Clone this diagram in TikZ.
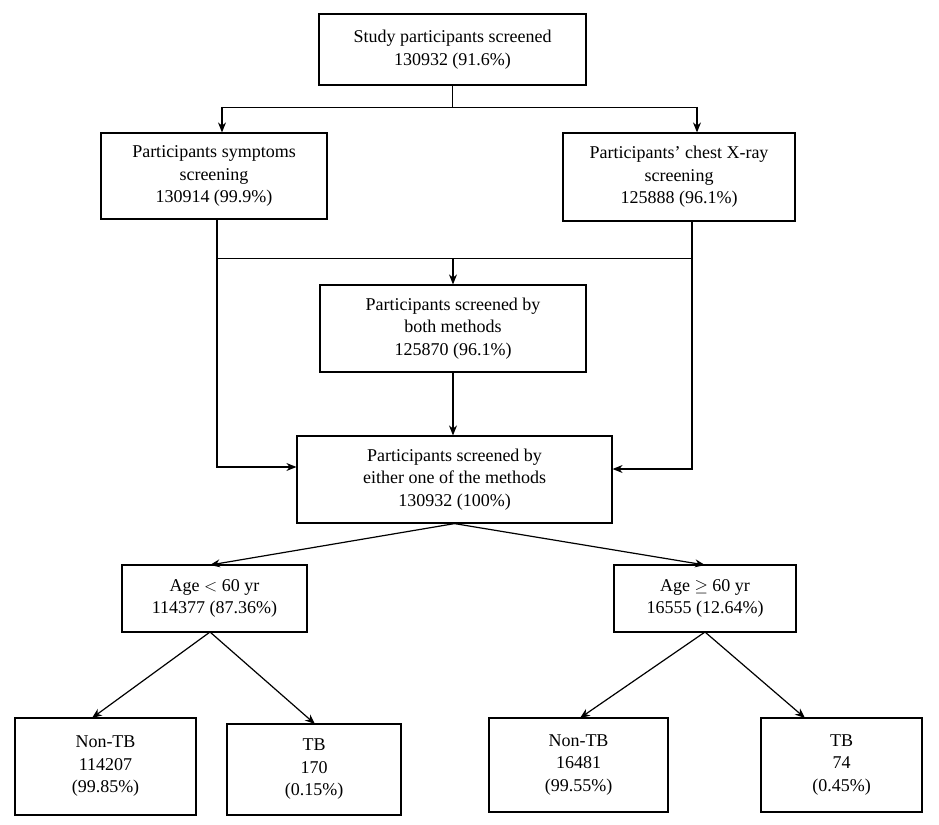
\documentclass[tikz,border=0pt]{standalone}
\usepackage{fontspec}
\setmainfont{Liberation Serif}
\usepackage{amssymb}
\usetikzlibrary{arrows.meta}
\begin{document}
\begin{tikzpicture}[x=1pt,y=-1pt,
  box/.style={draw,line width=1.2pt,align=center,inner sep=0pt,font=\fontsize{18}{22.5}\selectfont},
  arr/.style={-{Stealth[length=10pt,width=8pt]},line width=1.2pt},
  ln/.style={line width=0.7pt}]
\useasboundingbox (0,0) rectangle (939,824);
\node[box,minimum width=267,minimum height=71] (top) at (452.5,49.5) {Study participants screened\\130932 (91.6\%)};
\node[box,minimum width=226,minimum height=86] (sym) at (214,176) {Participants symptoms\\screening\\130914 (99.9\%)};
\node[box,minimum width=232,minimum height=88] (cxr) at (679,177) {Participants' chest X-ray\\screening\\125888 (96.1\%)};
\node[box,minimum width=266,minimum height=87] (both) at (453,328.5) {Participants screened by\\both methods\\125870 (96.1\%)};
\node[box,minimum width=315,minimum height=87] (either) at (454.5,479.5) {Participants screened by\\either one of the methods\\130932 (100\%)};
\node[box,minimum width=185,minimum height=67] (a1) at (214.5,598.5) {Age $<$ 60 yr\\114377 (87.36\%)};
\node[box,minimum width=182,minimum height=67] (a2) at (705,598.5) {Age $\geq$ 60 yr\\16555 (12.64\%)};
\node[box,minimum width=181,minimum height=97] (n1) at (105.5,766.5) {Non-TB\\114207\\(99.85\%)};
\node[box,minimum width=174,minimum height=91] (t1) at (314,769.5) {TB\\170\\(0.15\%)};
\node[box,minimum width=179,minimum height=94] (n2) at (578.5,765) {Non-TB\\16481\\(99.55\%)};
\node[box,minimum width=161,minimum height=94] (t2) at (841.5,765) {TB\\74\\(0.45\%)};
% top split
\coordinate (s0) at (452.5,107);
\coordinate (sl) at (222,107);
\coordinate (sr) at (697,107);
\draw[ln] (top.south) -- (s0);
\draw[ln] (sl) -- (sr);
\draw[arr] (sl) -- (sym.north -| sl);
\draw[arr] (sr) -- (cxr.north -| sr);
% merge
\coordinate (m1) at (217,219);
\coordinate (m2) at (692,221);
\coordinate (h1) at (217,258);
\coordinate (h2) at (692,258);
\coordinate (hc) at (453,258);
\draw[ln] (h1) -- (h2);
\draw[arr] (hc) -- (both.north);
\draw[arr] (both.south) -- (both.south |- either.north);
\coordinate (l1) at (217,467);
\coordinate (l2) at (692,469);
\draw[arr] (m1) -- (l1) -- (either.west |- l1);
\draw[arr] (m2) -- (l2) -- (either.east |- l2);
% ages
\draw[arr] (either.south) -- (210,565);
\draw[arr] (either.south) -- (705,565);
\draw[arr] (210,632) -- (92,718);
\draw[arr] (210,632) -- (315,724);
\draw[arr] (705,632) -- (580,718);
\draw[arr] (705,632) -- (805,718);
\end{tikzpicture}
\end{document}
